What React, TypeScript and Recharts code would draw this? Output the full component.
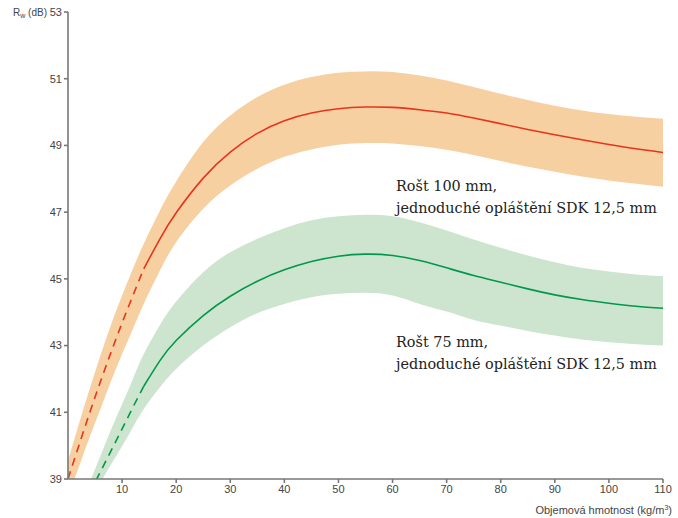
import { ComposedChart, Area, Line, XAxis, YAxis } from "recharts";

const xs = [0, 2, 4, 6, 8, 10, 12, 14, 17, 20, 25, 30, 35, 40, 45, 50, 55, 60, 65, 70, 75, 80, 85, 90, 95, 100, 105, 110];

// Rošt 100 mm
const red = [39.0, 40.0, 40.98, 41.92, 42.82, 43.68, 44.5, 45.3, 46.2, 46.98, 48.02, 48.8, 49.36, 49.74, 49.97, 50.1, 50.15, 50.14, 50.07, 49.97, 49.82, 49.65, 49.48, 49.32, 49.17, 49.03, 48.9, 48.79];
const redHigh = [39.55, 40.65, 41.7, 42.7, 43.65, 44.5, 45.3, 46.05, 47.05, 47.92, 49.1, 49.9, 50.45, 50.82, 51.05, 51.18, 51.22, 51.2, 51.1, 50.95, 50.75, 50.55, 50.36, 50.19, 50.05, 49.94, 49.86, 49.8];
const redLow = [38.45, 39.35, 40.25, 41.1, 41.95, 42.75, 43.5, 44.25, 45.25, 46.1, 47.1, 47.8, 48.3, 48.66, 48.88, 49.02, 49.07, 49.06, 48.98, 48.87, 48.71, 48.53, 48.36, 48.21, 48.07, 47.95, 47.85, 47.76];

// Rošt 75 mm
const green = [null, null, 38.58, 39.22, 39.86, 40.5, 41.15, 41.78, 42.55, 43.15, 43.9, 44.48, 44.93, 45.27, 45.52, 45.68, 45.74, 45.7, 45.55, 45.33, 45.1, 44.9, 44.7, 44.52, 44.38, 44.27, 44.18, 44.12];
const greenHigh = [null, null, 38.9, 39.7, 40.5, 41.25, 42.0, 42.75, 43.62, 44.32, 45.2, 45.8, 46.2, 46.52, 46.76, 46.88, 46.92, 46.88, 46.7, 46.45, 46.18, 45.93, 45.7, 45.5, 45.33, 45.22, 45.13, 45.08];
const greenLow = [null, null, 38.2, 38.88, 39.45, 39.98, 40.55, 41.1, 41.75, 42.3, 43.0, 43.55, 43.97, 44.25, 44.45, 44.55, 44.58, 44.5, 44.25, 44.02, 43.77, 43.6, 43.44, 43.3, 43.18, 43.1, 43.04, 43.0];

// measured part starts here, below it the curves are dashed
const dashEnd = 14;

const xTicks = [10, 20, 30, 40, 50, 60, 70, 80, 90, 100, 110];
const yTicks = [39, 41, 43, 45, 47, 49, 51, 53];

const data = xs.map((x, i) => ({
  x,
  redBand: [redLow[i], redHigh[i]],
  greenBand: green[i] == null ? null : [greenLow[i], greenHigh[i]],
  redDash: x <= dashEnd ? red[i] : null,
  redSolid: x >= dashEnd ? red[i] : null,
  greenDash: x <= dashEnd ? green[i] : null,
  greenSolid: x >= dashEnd ? green[i] : null,
}));

const axisColor = "#777";
const tickStyle = { fontSize: 11, fill: "#444", fontFamily: "Liberation Sans, Arial, sans-serif" };
const noteStyle = { fontSize: 14.4, fill: "#222", fontFamily: "DejaVu Serif, serif" };

export default function App() {
  return (
    <div style={{ position: "absolute", left: 0, top: 0, background: "#fff" }}>
      <ComposedChart width={678} height={518} data={data} margin={{ top: 12, right: 15, bottom: 0, left: 0 }}>
        <XAxis
          type="number"
          dataKey="x"
          domain={[0, 110]}
          ticks={xTicks}
          height={39}
          tick={tickStyle}
          tickSize={4}
          stroke={axisColor}
          strokeWidth={1.6}
        />
        <YAxis
          type="number"
          domain={[39, 53]}
          ticks={yTicks}
          allowDataOverflow
          width={68}
          tick={tickStyle}
          tickSize={4}
          stroke={axisColor}
          strokeWidth={1.6}
        />
        <Area dataKey="redBand" type="natural" stroke="none" fill="#f7d0a2" fillOpacity={1} isAnimationActive={false} />
        <Area dataKey="greenBand" type="natural" stroke="none" fill="#cde5ce" fillOpacity={1} isAnimationActive={false} />
        <Line dataKey="redDash" type="natural" stroke="#e8341c" strokeWidth={1.6} strokeDasharray="8 6" dot={false} isAnimationActive={false} />
        <Line dataKey="redSolid" type="natural" stroke="#e8341c" strokeWidth={1.6} dot={false} isAnimationActive={false} />
        <Line dataKey="greenDash" type="natural" stroke="#00984a" strokeWidth={1.6} strokeDasharray="8 6" dot={false} isAnimationActive={false} />
        <Line dataKey="greenSolid" type="natural" stroke="#00984a" strokeWidth={1.6} dot={false} isAnimationActive={false} />
        <text x={47} y={16} textAnchor="end" style={{ fontSize: 10, fill: "#444", fontFamily: "Liberation Sans, Arial, sans-serif" }}>
          R<tspan fontSize={7} dy={2}>w</tspan>
          <tspan dy={-2}> (dB)</tspan>
        </text>
        <text x={672} y={514} textAnchor="end" style={tickStyle}>
          Objemová hmotnost (kg/m<tspan fontSize={7} dy={-4}>3</tspan>
          <tspan dy={4}>)</tspan>
        </text>
        <text x={396} y={191} style={noteStyle}>Rošt 100 mm,</text>
        <text x={396} y={213} style={noteStyle}>jednoduché opláštění SDK 12,5 mm</text>
        <text x={396} y={347} style={noteStyle}>Rošt 75 mm,</text>
        <text x={396} y={369} style={noteStyle}>jednoduché opláštění SDK 12,5 mm</text>
      </ComposedChart>
    </div>
  );
}
